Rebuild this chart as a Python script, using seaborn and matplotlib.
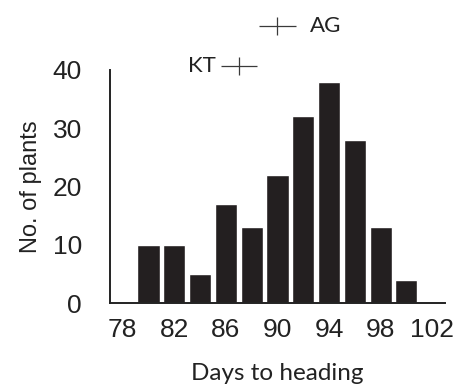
import matplotlib
matplotlib.use("Agg")
import matplotlib.pyplot as plt
import seaborn as sns
import pandas as pd

# --- data ---
days = [80, 82, 84, 86, 88, 90, 92, 94, 96, 98, 100]
plants = [10, 10, 5, 17, 13, 22, 32, 38, 28, 13, 4]
x_ticks = [78, 82, 86, 90, 94, 98, 102]
y_ticks = [0, 10, 20, 30, 40]
parents = ["KT", "AG"]
parent_days = [87.0, 90.0]
parent_marks = [40.7, 47.5]

BAR_COLOR = "#231f20"
MARK_COLOR = "#3a3a3a"

sns.set_theme(style="white")
plt.rcParams["font.family"] = ["Liberation Sans", "DejaVu Sans"]

df = pd.DataFrame({"days": days, "plants": plants})

fig = plt.figure(figsize=(4.56, 3.86), dpi=100)
ax = fig.add_axes([0.241, 0.215, 0.735, 0.604])

sns.barplot(data=df, x="days", y="plants", native_scale=True, width=0.86,
            color=BAR_COLOR, saturation=1, ax=ax)

# parent markers above the histogram
for name, xd, yd in zip(parents, parent_days, parent_marks):
    ax.errorbar(xd, yd, xerr=1.4, yerr=1.55, fmt="none", ecolor=MARK_COLOR,
                elinewidth=0.9, capsize=0, clip_on=False)
    if name == "KT":
        ax.text(xd - 1.75, yd, name, ha="right", va="center", fontsize=16,
                family=["Lato", "DejaVu Sans"], color="#222222", clip_on=False)
    else:
        ax.text(xd + 2.5, yd, name, ha="left", va="center", fontsize=16,
                family=["Lato", "DejaVu Sans"], color="#222222", clip_on=False)

ax.set_xlim(77, 103)
ax.set_ylim(0, 40)
ax.set_xticks(x_ticks)
ax.set_xticklabels([str(t) for t in x_ticks])
ax.set_yticks(y_ticks)
ax.tick_params(axis="both", length=0, labelsize=19, colors="#222222")
ax.tick_params(axis="x", pad=11)
ax.tick_params(axis="y", pad=20)

ax.set_xlabel("Days to heading", fontsize=17.5, family=["Lato", "DejaVu Sans"],
              color="#222222", labelpad=15)
ax.set_ylabel("No. of plants", fontsize=17, color="#222222", labelpad=8)

for side in ["top", "right"]:
    ax.spines[side].set_visible(False)
for side in ["left", "bottom"]:
    ax.spines[side].set_color("#222222")
    ax.spines[side].set_linewidth(1.4)

fig.savefig("out.png", dpi=100, facecolor="white")
